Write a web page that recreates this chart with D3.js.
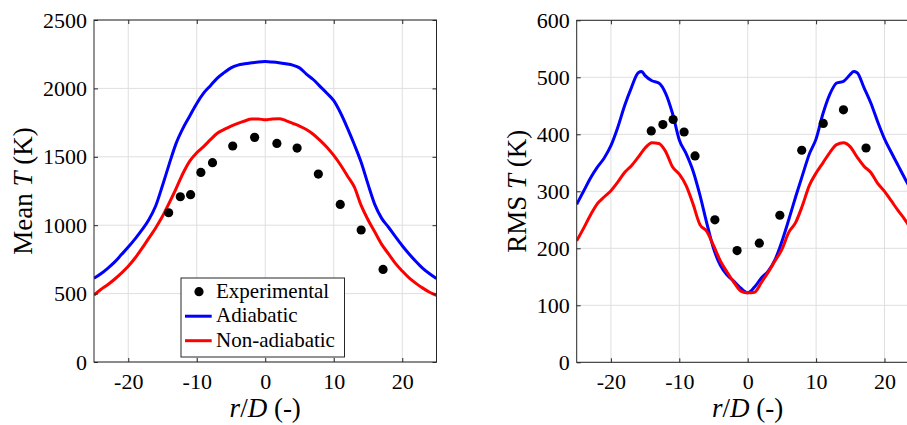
<!DOCTYPE html>
<html>
<head>
<meta charset="utf-8">
<script src="https://cdn.jsdelivr.net/npm/d3@7"></script>
<style>
  html, body { margin: 0; padding: 0; background: #fff; }
  svg { display: block; }
</style>
</head>
<body>
<svg id="chart" width="907" height="425" font-family="Liberation Serif"></svg>
<script>
// ---------- DATA ----------
const meanX = [-25,-24,-23,-22,-21,-20,-19,-18,-17,-16,-15,-14,-13,-12,-11,-10,-9,-8,-7,-6,-5,-4,-3,-2,-1,0,
  1,2,3,4,5,6,7,8,9,10,11,12,13,14,15,16,17,18,19,20,21,22,23,24,25];
const meanAdiabatic = [612,645,685,730,785,840,900,965,1040,1140,1290,1450,1600,1710,1800,1890,1965,2020,2075,2115,2150,2170,2180,2187,2193,2196,
  2193,2188,2180,2170,2150,2105,2065,2015,1965,1910,1820,1710,1590,1460,1300,1150,1050,985,916,850,790,735,685,645,610];
const meanNonAdiabatic = [490,530,565,605,650,700,760,830,905,980,1065,1165,1270,1380,1470,1530,1575,1625,1672,1700,1725,1745,1762,1776,1777,1770,
  1777,1779,1765,1745,1725,1700,1665,1620,1570,1510,1440,1360,1280,1145,1040,950,860,790,721,665,615,575,540,510,488];
const meanExpX = [-14.1,-12.4,-10.9,-9.4,-7.7,-4.75,-1.55,1.7,4.65,7.75,10.95,14.0,17.2];
const meanExp = [1091,1208,1223,1386,1457,1579,1642,1598,1564,1374,1152,965,677];

const rmsAdX = [-25,-24,-23,-22,-21,-20,-19,-18,-17,-16,-15.5,-15,-14,-13,-12,-11,-10,-9,-8,-7,-6,-5,-4,-3,-2,-1,0,
  1,2,3,4,5,6,7,8,9,10,11,12,13,14,15,15.5,16,17,18,19,20,21,22,23,24,25];
const rmsAdiabatic = [277,300,323,342,358,380,412,450,482,508,510,503,494,490,472,437,390,366,336,294,245,200,170,153,142,130,122,
  132,148,160,180,212,250,290,328,365,392,436,470,490,493,505,510,508,482,455,422,392,368,345,322,300,277];
const rmsNaX = [-25,-24,-23,-22,-21,-20,-19,-18,-17,-16,-15,-14,-13,-12,-11,-10,-9,-8,-7,-6,-5,-4,-3,-2,-1,0,
  1,2,3,4,5,6,7,8,9,10,11,12,13,14,15,16,17,18,19,20,21,22,23,24,25];
const rmsNonAdiabatic = [213,235,258,278,290,301,316,333,345,360,376,385,384,370,343,330,310,278,242,230,205,178,158,140,125,122,
  123,140,158,178,198,228,245,275,310,332,350,368,382,385,378,360,344,333,314,300,283,266,250,232,213];
const rmsExpX = [-14.1,-12.4,-10.9,-9.3,-7.7,-4.8,-1.55,1.7,4.7,7.9,11.05,14.0,17.3];
const rmsExp = [406,417,426,404,362,250,196,209,258,372,419,443,376];

const xTicks = [-20,-10,0,10,20];
const meanYTicks = [0,500,1000,1500,2000,2500];
const rmsYTicks = [0,100,200,300,400,500,600];
const legendLabels = ["Experimental","Adiabatic","Non-adiabatic"];

// ---------- DRAW ----------
const FONT = "Liberation Serif";
const svg = d3.select("#chart");
const AX = "#262626", GRID = "#dfdfdf", BLUE = "#0000ff", RED = "#ff0000";

function panel(opts) {
  const {left, top, w, h, yMax, yTicks, series, expX, expY, ylabelParts, ylabelX, id} = opts;
  const x = d3.scaleLinear().domain([-25, 25]).range([left, left + w]);
  const y = d3.scaleLinear().domain([0, yMax]).range([top + h, top]);
  const g = svg.append("g");

  // grid
  g.append("g").selectAll("line").data(xTicks).join("line")
    .attr("x1", d => x(d)).attr("x2", d => x(d)).attr("y1", top).attr("y2", top + h)
    .attr("stroke", GRID).attr("stroke-width", 1);
  g.append("g").selectAll("line").data(yTicks).join("line")
    .attr("x1", left).attr("x2", left + w).attr("y1", d => y(d)).attr("y2", d => y(d))
    .attr("stroke", GRID).attr("stroke-width", 1);

  // clip
  svg.append("clipPath").attr("id", id).append("rect")
    .attr("x", left).attr("y", top).attr("width", w).attr("height", h);
  const plot = g.append("g").attr("clip-path", `url(#${id})`);

  const line = d3.line().x(d => x(d[0])).y(d => y(d[1])).curve(d3.curveMonotoneX);
  series.forEach(s => {
    plot.append("path").datum(s.xs.map((v, i) => [v, s.ys[i]]))
      .attr("d", line).attr("fill", "none").attr("stroke", s.color)
      .attr("stroke-width", 3).attr("stroke-linejoin", "round");
  });
  plot.append("g").selectAll("circle").data(expX.map((v, i) => [v, expY[i]])).join("circle")
    .attr("cx", d => x(d[0])).attr("cy", d => y(d[1])).attr("r", 4.6).attr("fill", "#000");

  // axes
  const fmt = d => (d < 0 ? "-" + Math.abs(d) : String(d));
  const xa = g.append("g").attr("transform", `translate(0,${top + h})`)
    .call(d3.axisBottom(x).tickValues(xTicks).tickSize(-4).tickPadding(11).tickFormat(fmt));
  const ya = g.append("g").attr("transform", `translate(${left},0)`)
    .call(d3.axisLeft(y).tickValues(yTicks).tickSize(-4).tickPadding(7).tickFormat(fmt));
  const xt = g.append("g").attr("transform", `translate(0,${top})`)
    .call(d3.axisTop(x).tickValues(xTicks).tickSize(-4).tickFormat(""));
  const yr = g.append("g").attr("transform", `translate(${left + w},0)`)
    .call(d3.axisRight(y).tickValues(yTicks).tickSize(-4).tickFormat(""));
  [xa, ya, xt, yr].forEach(a => {
    a.attr("font-family", FONT).attr("font-size", 22);
    a.select(".domain").remove();
    a.selectAll("line").attr("stroke", AX);
    a.selectAll("text").attr("font-family", FONT).attr("font-size", 22).attr("fill", "#000");
  });
  // box
  g.append("rect").attr("x", left).attr("y", top).attr("width", w).attr("height", h)
    .attr("fill", "none").attr("stroke", AX).attr("stroke-width", 1);

  // labels
  const xl = g.append("text").attr("x", left + w / 2).attr("y", 417)
    .attr("text-anchor", "middle").attr("font-size", 27).attr("font-family", FONT);
  xl.append("tspan").attr("font-style", "italic").text("r");
  xl.append("tspan").text("/");
  xl.append("tspan").attr("font-style", "italic").text("D");
  xl.append("tspan").text(" (-)");

  const yl = g.append("text").attr("transform", `translate(${ylabelX},${top + h / 2}) rotate(-90)`)
    .attr("text-anchor", "middle").attr("font-size", 27).attr("font-family", FONT);
  yl.append("tspan").text(ylabelParts[0]);
  yl.append("tspan").attr("font-style", "italic").text("T");
  yl.append("tspan").text(" (K)");
  return {x, y, g};
}

panel({
  left: 94, top: 20, w: 342.5, h: 342, yMax: 2500, yTicks: meanYTicks,
  series: [{xs: meanX, ys: meanAdiabatic, color: BLUE}, {xs: meanX, ys: meanNonAdiabatic, color: RED}],
  expX: meanExpX, expY: meanExp, ylabelParts: ["Mean "], ylabelX: 32, id: "clipL"
});
panel({
  left: 576.7, top: 20.3, w: 342, h: 342, yMax: 600, yTicks: rmsYTicks,
  series: [{xs: rmsAdX, ys: rmsAdiabatic, color: BLUE}, {xs: rmsNaX, ys: rmsNonAdiabatic, color: RED}],
  expX: rmsExpX, expY: rmsExp, ylabelParts: ["RMS "], ylabelX: 526, id: "clipR"
});

// legend
const lg = svg.append("g");
lg.append("rect").attr("x", 181).attr("y", 278).attr("width", 163.5).attr("height", 79)
  .attr("fill", "#fff").attr("stroke", AX).attr("stroke-width", 1);
const rows = [291.7, 316.2, 340.7];
lg.append("circle").attr("cx", 199).attr("cy", rows[0]).attr("r", 4.6).attr("fill", "#000");
lg.append("line").attr("x1", 185).attr("x2", 211.7).attr("y1", rows[1]).attr("y2", rows[1])
  .attr("stroke", BLUE).attr("stroke-width", 3);
lg.append("line").attr("x1", 185).attr("x2", 211.7).attr("y1", rows[2]).attr("y2", rows[2])
  .attr("stroke", RED).attr("stroke-width", 3);
legendLabels.forEach((t, i) => {
  lg.append("text").attr("x", 216).attr("y", rows[i] + 6).attr("font-size", 21)
    .attr("font-family", FONT).text(t);
});
</script>
</body>
</html>
